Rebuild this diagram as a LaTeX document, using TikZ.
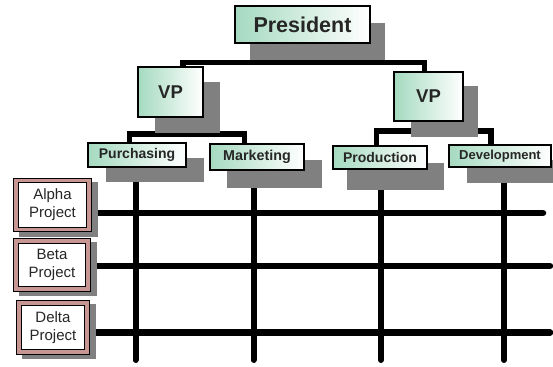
\documentclass[tikz,border=0pt]{standalone}
\usepackage{fontspec}
\setmainfont{Liberation Sans}
\definecolor{mint}{RGB}{165,218,192}
\definecolor{shadowc}{RGB}{128,128,128}
\definecolor{rose}{RGB}{200,150,146}
\begin{document}
\begin{tikzpicture}[x=1pt,y=-1pt,
  gbox/.style={draw=black,line width=1.4pt,left color=mint,right color=white,
    inner sep=0pt,outer sep=0pt,text=black!85,font=\bfseries},
  pbox/.style={draw=black,line width=1pt,double=rose,double distance=3.6pt,fill=white,
    inner sep=0pt,outer sep=0pt,minimum height=49pt,align=center,
    font=\fontsize{15}{18}\selectfont,text=black!85},
  conn/.style={line width=5.5pt,line join=miter},
  gridv/.style={line width=6pt,line cap=round},
  gridh/.style={line width=6.5pt,line cap=round},
  shd/.style={fill=shadowc}]
\useasboundingbox (0,0) rectangle (553,366);
% nodes (placed first for anchors, redrawn later on top)
\path
  node[gbox,minimum width=135pt,minimum height=37pt] (pres) at (302.5,24.5) {}
  node[gbox,minimum width=65pt,minimum height=50pt] (vpl) at (170.5,92) {}
  node[gbox,minimum width=69pt,minimum height=49pt] (vpr) at (428.5,96.5) {}
  node[gbox,minimum width=98pt,minimum height=24pt] (purch) at (137,155) {}
  node[gbox,minimum width=94pt,minimum height=26pt] (mark) at (257,157) {}
  node[gbox,minimum width=94pt,minimum height=23pt] (prod) at (380,157.5) {}
  node[gbox,minimum width=102pt,minimum height=22pt] (dev) at (500,156) {};
\path
  node[pbox,minimum width=73pt] (alpha) at (52.5,205) {}
  node[pbox,minimum width=72pt,minimum height=48pt] (beta) at (52,265) {}
  node[pbox,minimum width=68pt] (delta) at (53,327.5) {};
% junction coordinates
\coordinate (jl) at (183,62.5);
\coordinate (jr) at (424.5,62.5);
\coordinate (sl1) at (129.5,134);
\coordinate (sl2) at (244.5,134);
\coordinate (sr1) at (376.5,131);
\coordinate (sr2) at (491,131);
\coordinate (e1) at (135.5,360);
\coordinate (e2) at (253.5,360);
\coordinate (e3) at (381,360);
\coordinate (e4) at (504,360);
\coordinate (h1) at (543,213);
\coordinate (h2) at (550,266);
\coordinate (h3) at (550,332.5);
% grid lines
\draw[gridv] (purch.south -| e1) -- (e1);
\draw[gridv] (mark.south -| e2) -- (e2);
\draw[gridv] (prod.south -| e3) -- (e3);
\draw[gridv] (dev.south -| e4) -- (e4);
\draw[gridh] (alpha.east |- h1) -- (h1);
\draw[gridh] (beta.east |- h2) -- (h2);
\draw[gridh] (delta.east |- h3) -- (h3);
% connectors
\draw[conn] (pres.south) -- (pres.south |- jl);
\draw[conn] (vpl.north -| jl) -- (jl) -- (jr) -- (vpr.north -| jr);
\draw[conn] (vpl.south) -- (vpl.south |- sl1);
\draw[conn] (purch.north -| sl1) -- (sl1) -- (sl2) -- (mark.north -| sl2);
\draw[conn] (vpr.south) -- (vpr.south |- sr1);
\draw[conn] (prod.north -| sr1) -- (sr1) -- (sr2) -- (dev.north -| sr2);
% shadows
\fill[shd] ([shift={(15,17)}]pres.north west) rectangle ([shift={(15,17)}]pres.south east);
\fill[shd] ([shift={(17,15)}]vpl.north west) rectangle ([shift={(17,16)}]vpl.south east);
\fill[shd] ([shift={(17,14)}]vpr.north west) rectangle ([shift={(15,16)}]vpr.south east);
\fill[shd] ([shift={(18,15)}]purch.north west) rectangle ([shift={(18,15)}]purch.south east);
\fill[shd] ([shift={(17,16)}]mark.north west) rectangle ([shift={(18,18)}]mark.south east);
\fill[shd] ([shift={(14,17)}]prod.north west) rectangle ([shift={(17,21)}]prod.south east);
\fill[shd] ([shift={(18,15)}]dev.north west) rectangle ([shift={(18,16)}]dev.south east);
\fill[shd] ([shift={(3,1)}]alpha.north west) rectangle ([shift={(9,7)}]alpha.south east);
\fill[shd] ([shift={(3,1)}]beta.north west) rectangle ([shift={(9,7)}]beta.south east);
\fill[shd] ([shift={(3,1)}]delta.north west) rectangle ([shift={(9,7)}]delta.south east);
% boxes on top
\node[gbox,minimum width=135pt,minimum height=37pt,font=\bfseries\fontsize{21.5}{24}\selectfont] at (pres) {President};
\node[gbox,minimum width=65pt,minimum height=50pt,font=\bfseries\fontsize{18.5}{20}\selectfont] at (vpl) {VP};
\node[gbox,minimum width=69pt,minimum height=49pt,font=\bfseries\fontsize{18.5}{20}\selectfont] at (vpr) {VP};
\node[gbox,minimum width=98pt,minimum height=24pt,font=\bfseries\fontsize{14}{16}\selectfont] at (purch) {Purchasing};
\node[gbox,minimum width=94pt,minimum height=26pt,font=\bfseries\fontsize{14.3}{16}\selectfont] at (mark) {Marketing};
\node[gbox,minimum width=94pt,minimum height=23pt,font=\bfseries\fontsize{14}{16}\selectfont] at (prod) {Production};
\node[gbox,minimum width=102pt,minimum height=22pt,font=\bfseries\fontsize{13}{15}\selectfont] at (dev) {Development};
\node[pbox,minimum width=73pt] at (alpha) {Alpha\\Project};
\node[pbox,minimum width=72pt,minimum height=48pt] at (beta) {Beta\\Project};
\node[pbox,minimum width=68pt] at (delta) {Delta\\Project};
\end{tikzpicture}
\end{document}
